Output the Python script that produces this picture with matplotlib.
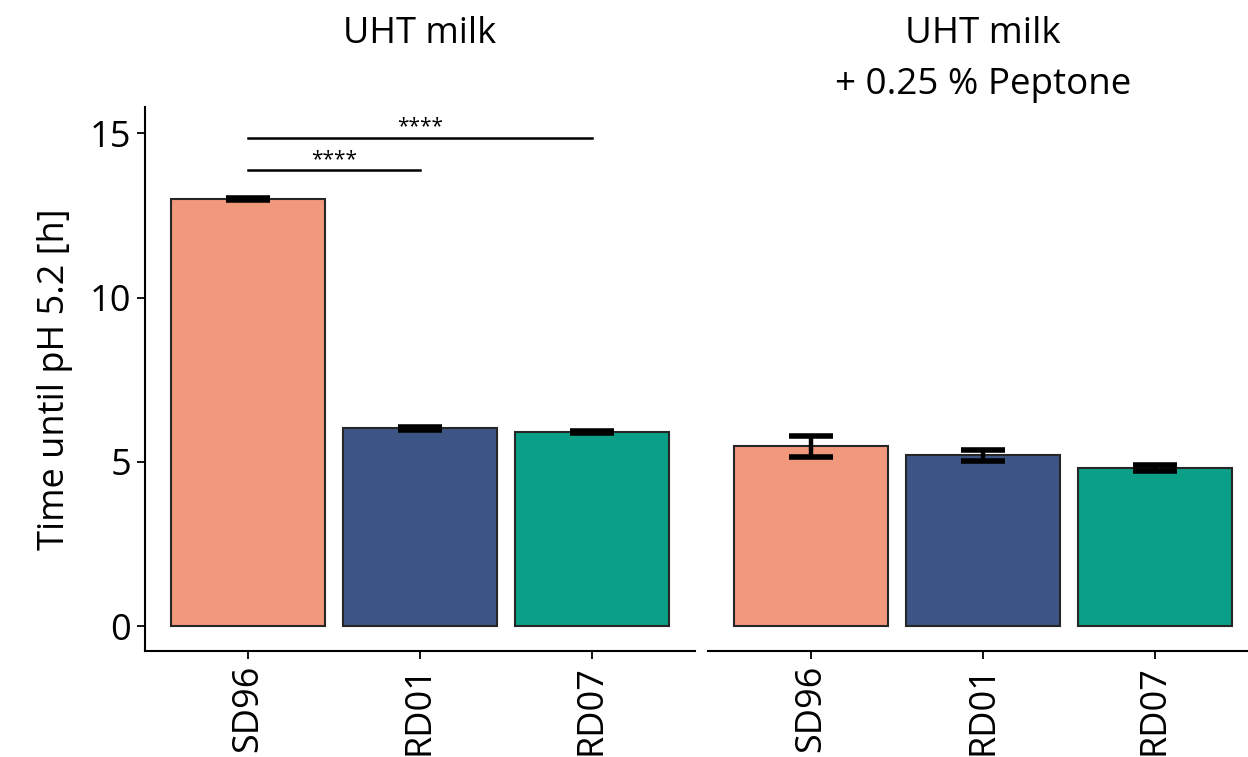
import matplotlib.pyplot as plt

plt.rcParams['font.family'] = ['Open Sans', 'DejaVu Sans']

strains = ["SD96", "RD01", "RD07"]
colors = ["#F1987D", "#3D5585", "#0B9F87"]

milk_mean = [13.0, 6.02, 5.90]
milk_err = [0.03, 0.05, 0.03]
peptone_mean = [5.48, 5.20, 4.81]
peptone_err = [0.32, 0.17, 0.09]

panel_titles = ["UHT milk", "UHT milk\n+ 0.25 % Peptone"]

# significance brackets: (from, to, height, label)
signif = [(1, 2, 13.87, "****"), (1, 3, 14.85, "****")]

fs = 26
fig = plt.figure(figsize=(12.48, 7.57), dpi=100)
W, H = 1248, 757
ax1 = fig.add_axes([145 / W, (H - 651) / H, 550 / W, (651 - 107) / H])
ax2 = fig.add_axes([708 / W, (H - 651) / H, 550 / W, (651 - 107) / H], sharey=ax1)

xs = [1, 2, 3]
for ax, means, errs in [(ax1, milk_mean, milk_err), (ax2, peptone_mean, peptone_err)]:
    ax.bar(xs, means, width=0.9, color=colors, edgecolor="#262626", linewidth=1.5, zorder=2)
    ax.errorbar(xs, means, yerr=errs, fmt="none", ecolor="black", elinewidth=3.2,
                capsize=16, capthick=4, zorder=3)
    ax.set_xlim(0.4, 3.6)
    ax.set_xticks(xs)
    ax.set_xticklabels(strains, rotation=90, fontsize=fs)
    ax.spines["top"].set_visible(False)
    ax.spines["right"].set_visible(False)
    ax.spines["bottom"].set_linewidth(1.5)
    ax.spines["left"].set_linewidth(1.5)
    ax.tick_params(axis="both", length=6, width=1.3, labelsize=fs, pad=4)

# panel strip titles, both hanging from the same top line
fig.text(420 / W, 1 - 16 / H, panel_titles[0], ha="center", va="top", fontsize=fs)
fig.text(983 / W, 1 - 16 / H, panel_titles[1], ha="center", va="top", fontsize=fs + 0.5,
         linespacing=1.55)

ax1.set_ylim(-0.76, 15.8)
ax1.set_yticks([0, 5, 10, 15])
ax1.set_ylabel("Time until pH 5.2 [h]", fontsize=fs, labelpad=12)

ax2.spines["left"].set_visible(False)
ax2.tick_params(axis="y", left=False, labelleft=False)

for x0, x1, y, lab in signif:
    ax1.plot([x0, x1], [y, y], color="black", linewidth=1.8)
    ax1.text((x0 + x1) / 2, y + 0.02, lab, ha="center", va="bottom", fontsize=15)

fig.savefig("out.png", dpi=100)
